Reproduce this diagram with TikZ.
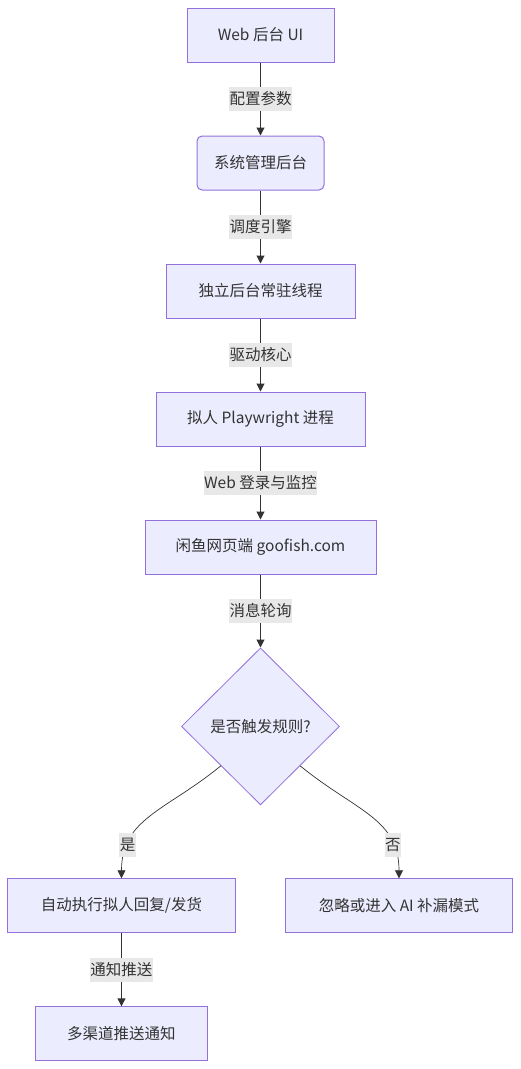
\documentclass[tikz,border=0pt]{standalone}
\usepackage{fontspec}
\setmainfont{Noto Sans CJK SC}
\usetikzlibrary{arrows.meta, positioning, shapes.geometric, calc}
\definecolor{mfill}{HTML}{ECECFF}
\definecolor{mline}{HTML}{9370DB}
\definecolor{medge}{HTML}{333333}
\definecolor{mlabel}{HTML}{E8E8E8}
\tikzset{
  every picture/.style={font=\fontsize{15.5bp}{18bp}\selectfont, text=medge},
  box/.style={draw=mline, fill=mfill, line width=1bp, minimum height=54bp, inner sep=0pt},
  decide/.style={diamond, draw=mline, fill=mfill, line width=0.8bp, minimum width=158bp, minimum height=157bp, inner sep=0pt},
  flow/.style={-{Triangle[length=8bp, width=8bp]}, draw=medge, line width=1bp},
  edgelabel/.style={fill=mlabel, inner xsep=0.5bp, inner ysep=0pt, minimum height=24bp},
}

\begin{document}
\begin{tikzpicture}[x=1bp, y=1bp, node distance=73bp]
  \useasboundingbox (0,0) rectangle (521,-1069);
  \node[box, minimum width=147bp] (web) at (260.5,-35) {Web 后台 UI};
  \node[box, rounded corners=5bp, minimum width=127bp, below=of web] (sys) {系统管理后台};
  \node[box, minimum width=189bp, below=of sys] (daemon) {独立后台常驻线程};
  \node[box, minimum width=209bp, below=of daemon] (pw) {拟人 Playwright 进程};
  \node[box, minimum width=231bp, below=of pw] (site) {闲鱼网页端 goofish.com};
  \node[decide, below=of site] (rule) {是否触发规则?};
  \node[box, minimum width=228bp, below=of rule, xshift=-139bp] (act) {自动执行拟人回复/发货};
  \node[box, minimum width=227bp, below=of rule, xshift=138.5bp] (skip) {忽略或进入 AI 补漏模式};
  \node[box, minimum width=172bp, below=of act] (notify) {多渠道推送通知};
  \draw[flow] (web) -- node[edgelabel] {配置参数} (sys);
  \draw[flow] (sys) -- node[edgelabel] {调度引擎} (daemon);
  \draw[flow] (daemon) -- node[edgelabel] {驱动核心} (pw);
  \draw[flow] (pw) -- node[edgelabel] {Web 登录与监控} (site);
  \draw[flow] (site) -- node[edgelabel] {消息轮询} (rule);
  \draw[flow, line width=0.7bp] (rule.south west) .. controls +(-55,-45) and +(0,60) .. node[edgelabel, pos=0.78] {是} (act.north);
  \draw[flow, line width=0.7bp] (rule.south east) .. controls +(55,-45) and +(0,60) .. node[edgelabel, pos=0.78] {否} (skip.north);
  \draw[flow] (act) -- node[edgelabel] {通知推送} (notify);
\end{tikzpicture}
\end{document}
